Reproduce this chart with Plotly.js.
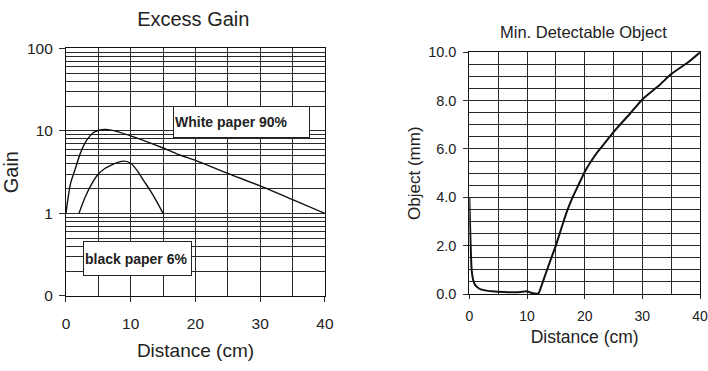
<!DOCTYPE html>
<html>
<head>
<meta charset="utf-8">
<script src="https://cdn.plot.ly/plotly-3.0.1.min.js"></script>
<style>html,body{margin:0;padding:0;background:#fff;}#chart{width:708px;height:371px;}</style>
</head>
<body>
<div id="chart"></div>
<script>
// ---- Excess Gain (left) ----
var whiteX = [0, 0.3, 0.7, 1.4, 2.2, 3.2, 4.2, 5, 6, 7, 10, 15, 17.6, 20, 25, 30, 35, 40];
var whiteY = [1, 1.5, 2.3, 3.4, 5.3, 7.7, 9.5, 10.1, 10.4, 10.2, 8.7, 6.2, 5.1, 4.4, 3.05, 2.15, 1.47, 1.0];
var blackX = [2, 3, 4, 5, 6, 7, 8, 9, 10, 11, 12, 13, 14, 15];
var blackY = [1, 1.6, 2.3, 3.0, 3.5, 3.85, 4.15, 4.3, 4.05, 3.3, 2.5, 1.9, 1.4, 1.0];
var gainGridVals = [0.1,0.2,0.3,0.4,0.5,0.6,0.7,0.8,0.9,1,2,3,4,5,6,7,8,9,10,20,30,40,50,60,70,80,90,100];
var gainTickVals = [0.1, 1, 10, 100];
var gainTickText = ['0', '1', '10', '100'];
var whiteLabel = 'White paper 90%';
var blackLabel = 'black paper 6%';

// ---- Min. Detectable Object (right) ----
var objX = [0, 0.2, 0.4, 0.7, 1, 1.5, 2, 3, 4, 6, 8, 9.5, 10, 10.5, 11, 11.7, 12, 13, 14, 15, 16, 17, 18, 19, 20, 21, 22, 23, 24, 25, 28, 30, 33, 35, 38, 40];
var objY = [4.0, 2.2, 1.0, 0.55, 0.38, 0.26, 0.19, 0.14, 0.11, 0.08, 0.07, 0.1, 0.11, 0.07, 0.03, 0.01, 0.03, 0.68, 1.35, 2.0, 2.75, 3.47, 4.05, 4.55, 5.05, 5.45, 5.8, 6.1, 6.4, 6.7, 7.5, 8.05, 8.65, 9.1, 9.6, 10.0];

var FONT = 'Liberation Sans, Arial, Helvetica, sans-serif';
var TXT = '#222';
var GRID = '#2a2a2a';

var traces = [
  {x: whiteX, y: whiteY, xaxis: 'x', yaxis: 'y', mode: 'lines', line: {color: '#111', width: 1.4, shape: 'spline', smoothing: 0.6}, hoverinfo: 'skip'},
  {x: blackX, y: blackY, xaxis: 'x', yaxis: 'y3', mode: 'lines', line: {color: '#111', width: 1.4, shape: 'spline', smoothing: 0.6}, hoverinfo: 'skip'},
  {x: objX, y: objY, xaxis: 'x2', yaxis: 'y2', mode: 'lines', line: {color: '#111', width: 2, shape: 'spline', smoothing: 0.5}, hoverinfo: 'skip'}
];

var layout = {
  width: 708, height: 371,
  margin: {l: 0, r: 0, t: 0, b: 0},
  paper_bgcolor: '#fff', plot_bgcolor: '#fff',
  showlegend: false,
  font: {family: FONT, color: TXT},
  title: {text: 'Excess Gain', x: 0.273, xanchor: 'center', y: 0.949, yanchor: 'middle', xref: 'paper', yref: 'paper', font: {size: 20, family: FONT, color: TXT}},
  xaxis: {
    domain: [0.0932, 0.459], anchor: 'y', range: [0, 40], tick0: 0, dtick: 10,
    ticks: 'outside', ticklen: 5, tickcolor: GRID, tickfont: {size: 15.5, color: TXT}, ticklabelstandoff: 8,
    showgrid: true, gridcolor: GRID, gridwidth: 1,
    minor: {dtick: 5, tick0: 0, showgrid: true, gridcolor: GRID, gridwidth: 1, ticks: ''},
    showline: true, linecolor: '#111', linewidth: 1, mirror: true, zeroline: false,
    title: {text: 'Distance (cm)', font: {size: 19, color: TXT}, standoff: 13}
  },
  yaxis: {
    domain: [0.2022, 0.8698], anchor: 'x', type: 'log', range: [-1, 2],
    tickmode: 'array', tickvals: gainGridVals, showticklabels: false, ticks: '',
    showgrid: true, gridcolor: GRID, gridwidth: 1,
    showline: true, linecolor: '#111', linewidth: 1, mirror: true, zeroline: false
  },
  yaxis3: {
    overlaying: 'y', anchor: 'x', side: 'left', type: 'log', range: [-1, 2],
    tickmode: 'array', tickvals: gainTickVals, ticktext: gainTickText,
    ticks: 'outside', ticklen: 6, tickcolor: GRID, tickfont: {size: 15.5, color: TXT}, ticklabelstandoff: 3,
    showgrid: false, zeroline: false, showline: false,
    title: {text: 'Gain', font: {size: 20, color: TXT}, standoff: 6}
  },
  xaxis2: {
    domain: [0.6629, 0.9887], anchor: 'y2', range: [0, 40], tick0: 0, dtick: 10,
    ticks: 'outside', ticklen: 4, tickcolor: GRID, tickfont: {size: 14, color: TXT}, ticklabelstandoff: 5,
    showgrid: true, gridcolor: GRID, gridwidth: 1,
    minor: {dtick: 5, tick0: 0, showgrid: true, gridcolor: GRID, gridwidth: 1, ticks: ''},
    showline: true, linecolor: '#111', linewidth: 1, mirror: true, zeroline: false,
    title: {text: 'Distance (cm)', font: {size: 17.5, color: TXT}, standoff: 7}
  },
  yaxis2: {
    domain: [0.2075, 0.859], anchor: 'x2', range: [0, 10], tick0: 0, dtick: 2, tickformat: '.1f',
    ticks: 'outside', ticklen: 5, tickcolor: GRID, tickfont: {size: 14.5, color: TXT}, ticklabelstandoff: 4,
    showgrid: true, gridcolor: GRID, gridwidth: 1,
    minor: {dtick: 0.5, tick0: 0, showgrid: true, gridcolor: GRID, gridwidth: 1, ticks: ''},
    showline: true, linecolor: '#111', linewidth: 1, mirror: true, zeroline: false,
    title: {text: 'Object (mm)', font: {size: 17, color: TXT}, standoff: 3}
  },
  annotations: [
    {text: 'Min. Detectable Object', xref: 'paper', yref: 'paper', x: 0.824, y: 0.914, xanchor: 'center', yanchor: 'middle', showarrow: false, font: {size: 16.5, family: FONT, color: TXT}},
    {text: '<b>' + whiteLabel + '</b>', xref: 'paper', yref: 'paper', x: 0.341, y: 0.671, xanchor: 'center', yanchor: 'middle', showarrow: false,
     width: 133, height: 28, align: 'left', borderpad: 1, borderwidth: 1, bordercolor: '#222', bgcolor: '#fff', font: {size: 14, family: FONT, color: TXT}},
    {text: '<b>' + blackLabel + '</b>', xref: 'paper', yref: 'paper', x: 0.1942, y: 0.3032, xanchor: 'center', yanchor: 'middle', showarrow: false,
     width: 105, height: 31, align: 'left', borderpad: 1, borderwidth: 1, bordercolor: '#222', bgcolor: '#fff', font: {size: 14, family: FONT, color: TXT}}
  ]
};

Plotly.newPlot('chart', traces, layout, {staticPlot: true, displayModeBar: false});
</script>
</body>
</html>
